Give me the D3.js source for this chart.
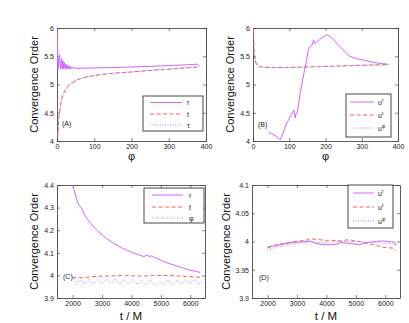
<!DOCTYPE html>
<html>
<head>
<meta charset="utf-8">
<script src="https://cdn.jsdelivr.net/npm/d3@7"></script>
<style>
  body { margin: 0; background: #fff; }
  text { font-family: "Liberation Sans", Arial, sans-serif; }
</style>
</head>
<body>
<div class="holder"></div>
<script>
// data: [x, value]
var phiTicks = [0, 100, 200, 300, 400];
var tTicks = [2000, 3000, 4000, 5000, 6000];
var orderTicksAB = [4, 4.5, 5, 5.5, 6];
var orderTicksC = [3.9, 4, 4.1, 4.2, 4.3, 4.4];
var orderTicksD = [3.9, 3.95, 4, 4.05, 4.1];

// panel A
var aR = [[0,6.2],[1,5.8],[2,5.35],[3,5.28],[5,5.45],[7,5.53],[8.5,5.3],[10,5.27],[12,5.46],[14,5.28],[16,5.42],[18,5.28],[20,5.39],[22,5.28],[24,5.36],[26,5.28],[28,5.34],[30,5.28],[32,5.33],[34,5.28],[36,5.32],[38,5.28],[41,5.31],[44,5.28],[47,5.3],[50,5.285],[60,5.29],[80,5.29],[100,5.295],[150,5.3],[200,5.31],[250,5.32],[300,5.335],[350,5.35],[378,5.36],[382,5.33]];
var aT = [[2,4.05],[3,4.13],[4,4.3],[5,4.42],[7,4.5],[10,4.65],[12,4.72],[16,4.82],[25,4.93],[35,5.0],[52,5.08],[75,5.13],[100,5.16],[150,5.2],[200,5.22],[250,5.25],[300,5.27],[350,5.295],[382,5.31]];
var aTau = [[2,4.1],[3,4.2],[4,4.35],[6,4.48],[8,4.58],[11,4.7],[14,4.79],[20,4.88],[30,4.98],[45,5.06],[70,5.12],[100,5.16],[150,5.2],[200,5.225],[250,5.25],[300,5.275],[350,5.3],[382,5.315]];

// panel B
var bUr = [[42,4.16],[48,4.13],[52,4.14],[56,4.1],[60,4.11],[65,4.07],[70,4.05],[75,4.02],[80,4.1],[86,4.2],[92,4.3],[98,4.37],[104,4.45],[110,4.51],[113,4.55],[116,4.41],[119,4.48],[123,4.54],[127,4.7],[130,4.84],[136,5.05],[142,5.25],[148,5.43],[152,5.6],[157,5.67],[163,5.7],[167,5.79],[171,5.72],[176,5.75],[185,5.8],[195,5.85],[205,5.88],[212,5.85],[222,5.8],[235,5.7],[249,5.61],[258,5.55],[267,5.5],[285,5.46],[300,5.44],[313,5.42],[335,5.39],[354,5.37],[372,5.36]];
var bUt = [[1,6.1],[2,5.8],[3,5.6],[5,5.45],[8,5.38],[12,5.33],[20,5.31],[40,5.3],[80,5.3],[150,5.31],[250,5.33],[300,5.34],[375,5.35]];
var bUphi = [[2,5.65],[4,5.52],[7,5.43],[10,5.38],[15,5.34],[25,5.31],[50,5.3],[100,5.3],[200,5.32],[300,5.34],[375,5.355]];

// panel C
var cR = [[1990,4.43],[2050,4.38],[2137,4.336],[2220,4.31],[2309,4.296],[2400,4.27],[2480,4.252],[2650,4.225],[2823,4.2],[3000,4.18],[3166,4.163],[3350,4.145],[3509,4.134],[3700,4.12],[3851,4.112],[4000,4.103],[4194,4.093],[4330,4.088],[4423,4.082],[4480,4.088],[4537,4.09],[4600,4.084],[4700,4.086],[4800,4.078],[4994,4.067],[5200,4.056],[5451,4.045],[5700,4.035],[5909,4.026],[6100,4.02],[6343,4.013]];
var cT = [[2000,3.99],[2300,3.99],[2600,3.993],[2900,3.996],[3200,3.997],[3500,3.999],[3800,3.999],[4100,3.998],[4400,3.997],[4700,3.999],[5000,4.0],[5300,3.999],[5600,3.997],[5900,3.995],[6200,3.993],[6400,3.992]];
var cPhi = [[2050,3.985],[2120,3.96],[2250,3.98],[2400,3.965],[2550,3.982],[2700,3.962],[2850,3.98],[3000,3.964],[3150,3.982],[3300,3.965],[3450,3.984],[3600,3.96],[3750,3.98],[3900,3.962],[4050,3.982],[4200,3.96],[4350,3.978],[4500,3.958],[4650,3.98],[4800,3.955],[4950,3.975],[5100,3.958],[5250,3.98],[5400,3.96],[5550,3.978],[5700,3.962],[5850,3.98],[6000,3.965],[6150,3.982],[6300,3.96],[6400,3.975]];

// panel D
var dUr = [[2000,3.989],[2200,3.992],[2500,3.995],[2800,3.998],[3000,3.999],[3300,4.0],[3450,4.001],[3600,3.997],[3800,3.995],[4000,3.994],[4300,3.995],[4500,3.998],[4700,3.997],[4900,3.996],[5100,3.994],[5300,3.997],[5500,3.999],[5700,4.0],[5900,4.001],[6100,4.0],[6300,3.999],[6360,3.993]];
var dUt = [[2000,3.99],[2200,3.993],[2500,3.996],[2800,3.999],[3100,4.001],[3300,4.002],[3440,4.005],[3600,4.004],[3800,4.003],[4000,4.002],[4200,4.002],[4500,4.001],[4700,4.003],[4900,4.002],[5100,4.0],[5300,3.998],[5500,3.995],[5700,3.993],[5900,3.99],[6100,3.989],[6300,3.988],[6360,3.984]];
var dUphi = [[2000,3.986],[2300,3.99],[2600,3.993],[2900,3.996],[3200,3.998],[3500,3.999],[3800,3.998],[4100,3.999],[4400,4.0],[4700,4.0],[5000,4.0],[5300,3.999],[5600,3.998],[5900,3.997],[6200,3.996],[6360,3.995]];

var W = 409, H = 323;
var cViolet = "#cc66ff", cRed = "#ff5a5a", cBlue = "#8c8cff";

var svg = d3.select(".holder").append("svg")
    .attr("width", W).attr("height", H);

// one line style per series slot
var styles = [
    { color: cViolet, dash: null, width: 1 },
    { color: cRed, dash: "4,2.5", width: 1 },
    { color: cBlue, dash: "1,1.5", width: 1 }
];

function panel(opt) {
    var x = d3.scaleLinear().domain(opt.xdom).range([opt.x0, opt.x1]);
    var y = d3.scaleLinear().domain(opt.ydom).range([opt.y1, opt.y0]);
    var g = svg.append("g");
    var id = "clip" + opt.tag;

    g.append("clipPath").attr("id", id).append("rect")
        .attr("x", opt.x0).attr("y", opt.y0)
        .attr("width", opt.x1 - opt.x0).attr("height", opt.y1 - opt.y0);

    // axes, ticks pointing in
    var bottom = g.append("g").attr("transform", "translate(0," + opt.y1 + ")")
        .call(d3.axisBottom(x).tickValues(opt.xticks).tickSizeInner(-3).tickSizeOuter(0).tickPadding(3).tickFormat(d3.format("d")));
    var top = g.append("g").attr("transform", "translate(0," + opt.y0 + ")")
        .call(d3.axisTop(x).tickValues(opt.xticks).tickSizeInner(-3).tickSizeOuter(0).tickFormat(""));
    var left = g.append("g").attr("transform", "translate(" + opt.x0 + ",0)")
        .call(d3.axisLeft(y).tickValues(opt.yticks).tickSizeInner(-3).tickSizeOuter(0).tickPadding(3).tickFormat(d3.format("")));
    var right = g.append("g").attr("transform", "translate(" + opt.x1 + ",0)")
        .call(d3.axisRight(y).tickValues(opt.yticks).tickSizeInner(-3).tickSizeOuter(0).tickFormat(""));
    [bottom, top, left, right].forEach(function(a) {
        a.select(".domain").attr("stroke", "#333").attr("stroke-width", 0.8);
        a.selectAll(".tick line").attr("stroke", "#333").attr("stroke-width", 0.6);
        a.selectAll("text").attr("font-size", 7).attr("fill", "#222")
            .style("font-family", "'Liberation Sans', Arial, sans-serif");
    });

    var line = d3.line().x(function(d) { return x(d[0]); }).y(function(d) { return y(d[1]); });
    opt.series.forEach(function(s, i) {
        g.append("path").datum(s)
            .attr("clip-path", "url(#" + id + ")")
            .attr("d", line)
            .attr("fill", "none")
            .attr("stroke", styles[i].color)
            .attr("stroke-width", styles[i].width)
            .attr("stroke-dasharray", styles[i].dash);
    });

    // axis titles
    g.append("text")
        .attr("transform", "translate(" + opt.ylabX + "," + ((opt.y0 + opt.y1) / 2) + ") rotate(-90)")
        .attr("text-anchor", "middle").attr("font-size", 11).attr("fill", "#111")
        .text("Convergence Order");
    g.append("text")
        .attr("x", (opt.x0 + opt.x1) / 2).attr("y", opt.xlabY)
        .attr("text-anchor", "middle").attr("font-size", opt.xlabSize).attr("fill", "#111")
        .text(opt.xlab);

    // panel tag
    g.append("text").attr("x", opt.tagX).attr("y", opt.tagY)
        .attr("font-size", 7).attr("fill", "#222").text("(" + opt.tag + ")");

    // legend
    var L = opt.legend;
    g.append("rect").attr("x", L.x0).attr("y", L.y0)
        .attr("width", L.x1 - L.x0).attr("height", L.y1 - L.y0)
        .attr("fill", "#fff").attr("stroke", "#333").attr("stroke-width", 0.9);
    L.labels.forEach(function(lab, i) {
        var ry = L.rows[i];
        g.append("line").attr("x1", L.lx0).attr("x2", L.lx1).attr("y1", ry).attr("y2", ry)
            .attr("stroke", styles[i].color).attr("stroke-width", styles[i].width)
            .attr("stroke-dasharray", styles[i].dash);
        var t = g.append("text").attr("x", L.tx).attr("y", ry + 2.5)
            .attr("font-size", 7).attr("fill", "#222");
        t.append("tspan").text(lab[0]);
        if (lab[1]) {
            t.append("tspan").attr("dy", -3).attr("font-size", 5).text(lab[1]);
        }
    });
}

panel({
    tag: "A", x0: 57, x1: 206, y0: 28, y1: 141,
    xdom: [0, 400], ydom: [4, 6], xticks: phiTicks, yticks: orderTicksAB,
    series: [aR, aT, aTau],
    ylabX: 38, xlab: "\u03c6", xlabY: 160, xlabSize: 11,
    tagX: 62, tagY: 126,
    legend: { x0: 143, x1: 203, y0: 96, y1: 131, lx0: 150, lx1: 182, tx: 187,
              rows: [102.5, 114, 125], labels: [["r"], ["t"], ["\u03c4"]] }
});

panel({
    tag: "B", x0: 253, x1: 398, y0: 28, y1: 141,
    xdom: [0, 400], ydom: [4, 6], xticks: phiTicks, yticks: orderTicksAB,
    series: [bUr, bUt, bUphi],
    ylabX: 234, xlab: "\u03c6", xlabY: 160, xlabSize: 11,
    tagX: 258, tagY: 127,
    legend: { x0: 346, x1: 391, y0: 94, y1: 137, lx0: 350, lx1: 374, tx: 378,
              rows: [102, 115, 128], labels: [["u", "r"], ["u", "t"], ["u", "\u03c6"]] }
});

panel({
    tag: "C", x0: 57, x1: 205, y0: 185, y1: 298,
    xdom: [1470, 6500], ydom: [3.9, 4.4], xticks: tTicks, yticks: orderTicksC,
    series: [cR, cT, cPhi],
    ylabX: 38, xlab: "t / M", xlabY: 319.5, xlabSize: 11.5,
    tagX: 63, tagY: 279,
    legend: { x0: 144, x1: 204, y0: 188, y1: 223, lx0: 152, lx1: 183, tx: 189,
              rows: [195, 207, 218], labels: [["r"], ["t"], ["\u03c6"]] }
});

panel({
    tag: "D", x0: 252, x1: 400, y0: 185, y1: 298,
    xdom: [1470, 6500], ydom: [3.9, 4.1], xticks: tTicks, yticks: orderTicksD,
    series: [dUr, dUt, dUphi],
    ylabX: 230, xlab: "t / M", xlabY: 319.5, xlabSize: 11.5,
    tagX: 259, tagY: 280,
    legend: { x0: 348, x1: 393, y0: 185, y1: 228, lx0: 353, lx1: 374, tx: 378,
              rows: [193, 207, 221], labels: [["u", "r"], ["u", "t"], ["u", "\u03c6"]] }
});
</script>
</body>
</html>
